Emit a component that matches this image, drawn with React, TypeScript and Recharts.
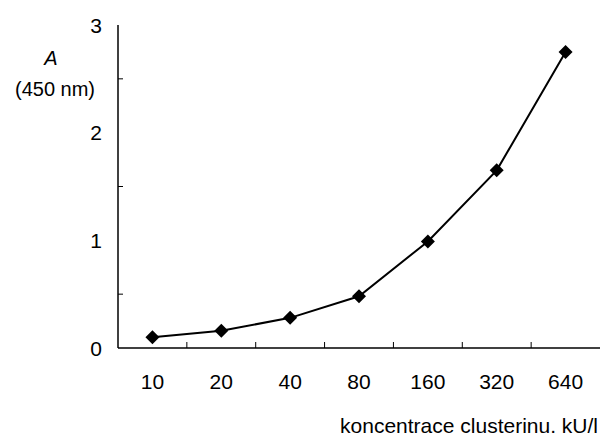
import React from 'react';
import { LineChart, Line, XAxis, YAxis, Label } from 'recharts';

const categories = ['10', '20', '40', '80', '160', '320', '640'];
const absorbance = [0.1, 0.16, 0.28, 0.48, 0.99, 1.65, 2.75];
const yTicks = [0, 0.5, 1, 1.5, 2, 2.5, 3];
const xTicks = [0, 0.5, 1, 1.5, 2, 2.5, 3, 3.5, 4, 4.5, 5, 5.5, 6];
const xTitle = 'koncentrace clusterinu. kU/l';
const yTitleA = 'A';
const yTitleUnit = '(450 nm)';

const data = categories.map((c, i) => ({ idx: i, label: c, a: absorbance[i] }));

const FONT = '"Liberation Sans", Arial, sans-serif';
const FS = 21;

const XTick = (props: any) => {
  const { x, y, payload } = props;
  const v = payload.value as number;
  if (Number.isInteger(v)) {
    return (
      <text x={x} y={y + 41} textAnchor="middle" fontFamily={FONT} fontSize={FS} fill="#000">
        {categories[v]}
      </text>
    );
  }
  return <line x1={x} x2={x} y1={y} y2={y - 6} stroke="#000" strokeWidth={1} />;
};

const YTick = (props: any) => {
  const { x, y, payload } = props;
  const v = payload.value as number;
  if (Number.isInteger(v)) {
    return (
      <text x={x - 16} y={y + 7.5} textAnchor="end" fontFamily={FONT} fontSize={FS} fill="#000">
        {String(v)}
      </text>
    );
  }
  return <line x1={x} x2={x + 5} y1={y} y2={y} stroke="#000" strokeWidth={1} />;
};

const Diamond = (props: any) => {
  const { cx, cy } = props;
  if (cx == null || cy == null) return null;
  const r = 7;
  return (
    <polygon
      points={`${cx},${cy - r} ${cx + r},${cy} ${cx},${cy + r} ${cx - r},${cy}`}
      fill="#000"
      stroke="none"
    />
  );
};

const XTitle = (props: any) => {
  const { viewBox } = props;
  return (
    <text
      x={viewBox.x + viewBox.width - 2}
      y={viewBox.y + 85}
      textAnchor="end"
      fontFamily={FONT}
      fontSize={FS}
      fill="#000"
    >
      {xTitle}
    </text>
  );
};

const YTitle = (props: any) => {
  const { viewBox } = props;
  return (
    <g>
      <text x={viewBox.x + 51} y={viewBox.y + 40} textAnchor="middle" fontFamily={FONT} fontSize={20} fontStyle="italic" fill="#000">
        {yTitleA}
      </text>
      <text x={viewBox.x + 55} y={viewBox.y + 71} textAnchor="middle" fontFamily={FONT} fontSize={20} fill="#000">
        {yTitleUnit}
      </text>
    </g>
  );
};

export default function App() {
  return (
    <div style={{ position: 'absolute', left: 0, top: 0, background: '#fff' }}>
      <LineChart width={601} height={437} data={data} margin={{ top: 25, right: 1, left: 0, bottom: 0 }}>
        <XAxis
          dataKey="idx"
          type="number"
          domain={[-0.5, 6.5]}
          ticks={xTicks}
          interval={0}
          tickSize={0}
          tickMargin={0}
          tickLine={false}
          tick={<XTick />}
          height={89}
          axisLine={{ stroke: '#000', strokeWidth: 1.5 }}
        >
          <Label content={<XTitle />} />
        </XAxis>
        <XAxis
          xAxisId="top"
          orientation="top"
          dataKey="idx"
          type="number"
          domain={[-0.5, 6.5]}
          tick={false}
          tickLine={false}
          height={0}
          axisLine={{ stroke: '#333', strokeWidth: 1.5 }}
        />
        <YAxis
          type="number"
          domain={[0, 3]}
          ticks={yTicks}
          interval={0}
          tickSize={0}
          tickMargin={0}
          tickLine={false}
          tick={<YTick />}
          width={118}
          axisLine={{ stroke: '#000', strokeWidth: 1.5 }}
        >
          <Label content={<YTitle />} />
        </YAxis>
        <YAxis
          yAxisId="right"
          orientation="right"
          type="number"
          domain={[0, 3]}
          tick={false}
          tickLine={false}
          width={0}
          axisLine={{ stroke: '#333', strokeWidth: 1.5 }}
        />
        <Line
          dataKey="a"
          stroke="#000"
          strokeWidth={2}
          dot={<Diamond />}
          activeDot={false}
          isAnimationActive={false}
        />
      </LineChart>
    </div>
  );
}
